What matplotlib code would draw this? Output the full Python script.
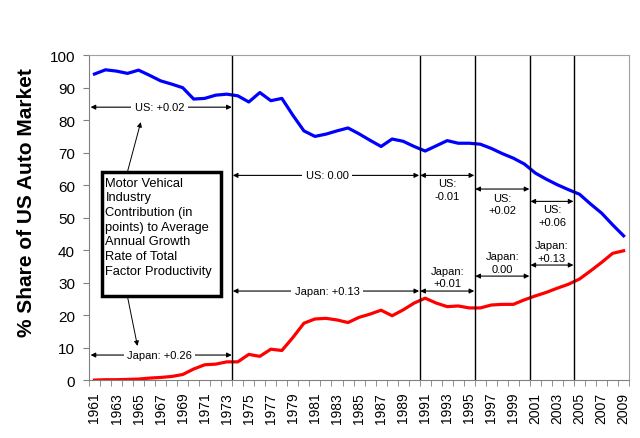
import numpy as np
import matplotlib
matplotlib.use('Agg')
import matplotlib.pyplot as plt
from matplotlib.patches import Rectangle

plt.rcParams['font.family'] = ['Liberation Sans', 'DejaVu Sans']

#### ========== Data ==========

years = list(range(1961, 2010))

us_share = [94.2, 95.5, 95.1, 94.4, 95.4, 93.8, 92.1, 91.1, 90.0, 86.5,
            86.7, 87.7, 88.0, 87.5, 85.6, 88.5, 86.0, 86.7, 81.5, 76.7,
            75.0, 75.7, 76.7, 77.6, 75.8, 73.8, 71.9, 74.2, 73.5, 71.9,
            70.5, 72.1, 73.7, 72.9, 72.9, 72.6, 71.3, 69.7, 68.3, 66.5,
            63.7, 61.8, 60.1, 58.6, 57.2, 54.2, 51.4, 47.8, 44.4]

japan_share = [0.0, 0.1, 0.1, 0.2, 0.3, 0.6, 0.8, 1.1, 1.7, 3.4,
               4.7, 4.9, 5.6, 5.6, 7.9, 7.3, 9.5, 9.1, 13.1, 17.5,
               18.8, 19.0, 18.5, 17.7, 19.3, 20.3, 21.5, 19.8, 21.6, 23.7,
               25.2, 23.7, 22.6, 22.8, 22.2, 22.2, 23.1, 23.3, 23.3, 24.7,
               25.9, 27.0, 28.3, 29.5, 31.1, 33.6, 36.2, 39.0, 39.8]

# period boundaries (between years)
breaks = [1973.5, 1990.5, 1995.5, 2000.5, 2004.5]

us_labels    = ['US: +0.02', 'US: 0.00', 'US:\n-0.01', 'US:\n+0.02', 'US:\n+0.06']
japan_labels = ['Japan: +0.26', 'Japan: +0.13', 'Japan:\n+0.01', 'Japan:\n0.00',
                'Japan:\n+0.13']

box_text = ('Motor Vehical\nIndustry\nContribution (in\npoints) to Average\n'
            'Annual Growth\nRate of Total\nFactor Productivity')

#### ========== Plot ==========

fig = plt.figure(figsize=(6.4, 4.39), dpi=100)
ax = fig.add_axes([0.139, 0.132, 0.844, 0.740])

ax.plot(years, us_share, color='#0000ff', lw=2.3, solid_joinstyle='round')
ax.plot(years, japan_share, color='#ff0000', lw=2.3, solid_joinstyle='round')

for b in breaks:
    ax.axvline(b, color='black', lw=1.0)

ax.set_xlim(1960.5, 2009.5)
ax.set_ylim(0, 100)

ax.set_yticks(np.arange(0, 101, 10))
ax.set_xticks(years[::2])
ax.set_xticklabels([str(y) for y in years[::2]], rotation=90)
ax.set_xticks(np.arange(1960.5, 2010, 1.0), minor=True)
ax.tick_params(axis='x', which='major', length=0, labelsize=10, pad=8.5)
ax.tick_params(axis='x', which='minor', length=4, color='#808080')
ax.tick_params(axis='y', length=4, color='#808080', labelsize=11, pad=6)

for s in ax.spines.values():
    s.set_color('#a0a0a0')
ax.spines['left'].set_color('#808080')
ax.spines['bottom'].set_color('#808080')

ax.set_ylabel('% Share of US Auto Market', fontsize=15, fontweight='bold')
ax.yaxis.set_label_coords(-0.098, 0.55)

# double-headed arrows with labels
def span(x0, x1, y, label, tx, ty):
    ax.annotate('', xy=(x0, y), xytext=(x1, y),
                arrowprops=dict(arrowstyle='<|-|>', color='black', lw=0.8,
                                mutation_scale=7, shrinkA=0, shrinkB=0))
    if '\n' in label:
        ax.text(tx, ty, label, ha='center', va='center', fontsize=8,
                linespacing=1.35)
    else:
        ax.text(tx, ty, label, ha='center', va='center', fontsize=8,
                bbox=dict(facecolor='white', edgecolor='none', pad=2.5))

lefts  = [1960.6] + breaks[:-1]
rights = breaks
us_y   = [84, 63, 63, 58.8, 55]
us_ty  = [84, 63, 58.6, 54.2, 50.6]
jp_y   = [7.7, 27.4, 27.4, 32, 35.4]
jp_ty  = [7.7, 27.4, 31.7, 36.1, 39.5]
us_tx  = [1966.9, 1982.1, 1993.0, 1998.0, 2002.5]

for i in range(5):
    span(lefts[i] + 0.05, rights[i] - 0.05, us_y[i], us_labels[i], us_tx[i], us_ty[i])
    span(lefts[i] + 0.05, rights[i] - 0.05, jp_y[i], japan_labels[i], us_tx[i], jp_ty[i])

# explanatory box
ax.add_patch(Rectangle((1961.7, 25.8), 10.8, 38.2, facecolor='white',
                       edgecolor='black', lw=2.5, zorder=5))
ax.text(1962.0, 62.6, box_text, ha='left', va='top', fontsize=9.3,
        linespacing=1.3, zorder=6)

ax.annotate('', xy=(1965.2, 79.4), xytext=(1964.0, 64.2),
            arrowprops=dict(arrowstyle='-|>', color='black', lw=0.7,
                            mutation_scale=7, shrinkA=0, shrinkB=0))
ax.annotate('', xy=(1964.9, 10.5), xytext=(1964.0, 25.6),
            arrowprops=dict(arrowstyle='-|>', color='black', lw=0.7,
                            mutation_scale=7, shrinkA=0, shrinkB=0))

plt.savefig('out.png', dpi=100)
plt.close()
